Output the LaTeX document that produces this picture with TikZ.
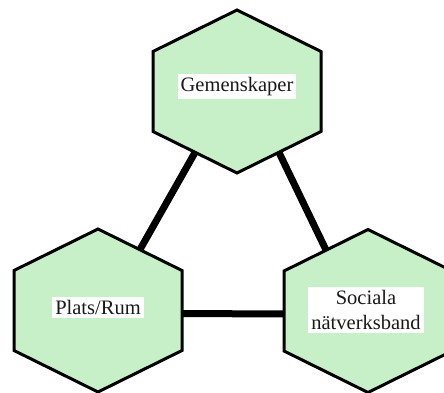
\documentclass[tikz,border=0pt]{standalone}
\usepackage{fontspec}
\setmainfont{Liberation Serif}
\usetikzlibrary{calc}
\definecolor{hexfill}{RGB}{199,240,201}
\tikzset{
  hexa/.style={draw=black, line width=3pt, fill=hexfill, line join=miter},
  conn/.style={draw=black, line width=7pt},
  lbl/.style={fill=white, inner xsep=3pt, inner ysep=3pt, align=center,
              font=\fontsize{20.5}{25}\selectfont, text=black!90}
}
\newcommand{\hexat}[1]{%
  \path[hexa] ($(#1)+(0,81.5)$) -- ++(84,-41.5) -- ++(0,-80) -- ++(-84,-41.5)
    -- ++(-84,41.5) -- ++(0,80) -- cycle;}
\begin{document}
\begin{tikzpicture}[x=1pt,y=1pt]
\useasboundingbox (0,0) rectangle (444,392);
\clip (0,0) rectangle (444,392);
% centres (image y flipped)
\coordinate (T) at (237,300.5);
\coordinate (L) at (98,81.5);
\coordinate (R) at (368,81);
% edge midpoints
\coordinate (T-ll) at ($(T)+(-42,-61)$);
\coordinate (T-lr) at ($(T)+(42,-61)$);
\coordinate (L-ur) at ($(L)+(42,61)$);
\coordinate (R-ul) at ($(R)+(-42,61)$);
\coordinate (L-r) at ($(L)+(84,-3)$);
\coordinate (R-l) at ($(R)+(-84,-3)$);
% connectors
\draw[conn] (T-ll) -- (L-ur);
\draw[conn] (T-lr) -- (R-ul);
\draw[conn] (L-r) -- (R-l);
% hexagons
\hexat{T}
\hexat{L}
\hexat{R}
% labels
\node[lbl] (gem) at ($(T)+(0,5)$) {Gemenskaper};
\node[lbl] (plats) at ($(L)+(0,3)$) {Plats/Rum};
\node[lbl] (soc) at ($(R)+(-2,1)$) {Sociala\\nätverksband};
\end{tikzpicture}
\end{document}
